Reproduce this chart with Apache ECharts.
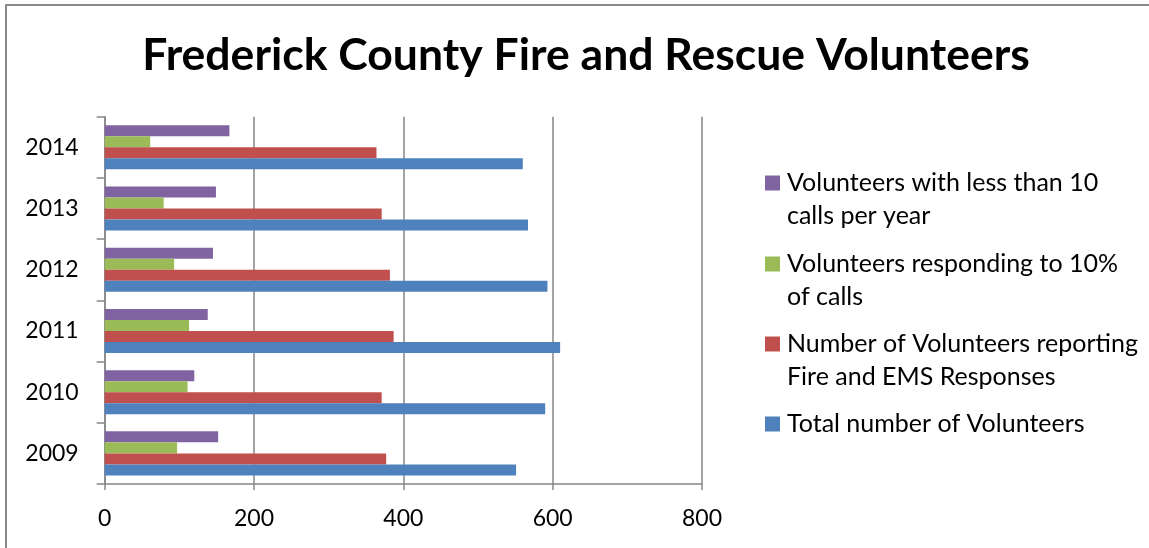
<!DOCTYPE html>
<html>
<head>
<meta charset="utf-8">
<title>Frederick County Fire and Rescue Volunteers</title>
<script src="https://cdn.jsdelivr.net/npm/echarts@6/dist/echarts.min.js"></script>
<style>
  html, body { margin: 0; padding: 0; background: #fff; }
  #chart { width: 1149px; height: 548px; }
</style>
</head>
<body>
<div id="chart"></div>
<script>
// data
var years = ['2009', '2010', '2011', '2012', '2013', '2014'];
var lessThan10Calls = [152, 120, 138, 145, 149, 167];
var responding10Pct = [97, 111, 113, 93, 79, 61];
var fireAndEms = [377, 371, 387, 382, 371, 364];
var totalVolunteers = [551, 590, 610, 593, 567, 560];
var xTicks = [0, 200, 400, 600, 800];

var seriesNames = [
  'Volunteers with less than 10\ncalls per year',
  'Volunteers responding to 10%\nof calls',
  'Number of Volunteers reporting\nFire and EMS Responses',
  'Total number of Volunteers'
];
var seriesColors = ['#8064A2', '#9BBB59', '#C0504D', '#4F81BD'];
var seriesData = [lessThan10Calls, responding10Pct, fireAndEms, totalVolunteers];

var FONT = 'Lato';
var LINE_H = 33;
var gray = '#868686';

var chart = echarts.init(document.getElementById('chart'));

// one legend per entry so the swatch sits on the first text line
// (a blank line is put in front of two-line names, so the middle line is the first one)
var legendIconY = [183, 264, 344, 424];
var legends = seriesNames.map(function (name, i) {
  var twoLines = name.indexOf('\n') >= 0;
  return {
    orient: 'vertical',
    left: 765,
    top: twoLines ? legendIconY[i] - 1.5 * LINE_H : legendIconY[i] - LINE_H / 2,
    padding: 0,
    itemWidth: 15,
    itemHeight: 15,
    icon: 'rect',
    selectedMode: false,
    data: [name],
    formatter: function (n) {
      return n.indexOf('\n') >= 0 ? ' \n' + n : n;
    },
    textStyle: {
      fontFamily: FONT,
      fontSize: 25,
      color: '#000',
      lineHeight: LINE_H,
      padding: [0, 0, 0, 2]
    }
  };
});

chart.setOption({
  animation: false,
  title: {
    text: 'Frederick County Fire and Rescue Volunteers',
    left: 581,
    textAlign: 'center',
    top: 28,
    textStyle: { fontFamily: FONT, fontSize: 44.5, fontWeight: 'bold', color: '#000' }
  },
  graphic: [{
    type: 'rect',
    shape: { x: 6, y: 5, width: 1300, height: 700 },
    style: { fill: 'none', stroke: '#8a8a8a', lineWidth: 2 },
    silent: true
  }],
  legend: legends,
  grid: { left: 104.7, right: 447, top: 116.7, bottom: 64 },
  xAxis: {
    type: 'value',
    min: xTicks[0],
    max: xTicks[xTicks.length - 1],
    interval: xTicks[1] - xTicks[0],
    axisLine: { show: true, lineStyle: { color: gray, width: 1.5 } },
    axisTick: { show: true, length: 6, lineStyle: { color: gray, width: 1.5 } },
    axisLabel: { fontFamily: FONT, fontSize: 23, color: '#000', margin: 23 },
    splitLine: { show: true, lineStyle: { color: gray, width: 1.5 } }
  },
  yAxis: {
    type: 'category',
    data: years,
    axisLine: { show: true, lineStyle: { color: gray, width: 1.5 } },
    axisTick: { show: true, length: 8, lineStyle: { color: gray, width: 1.5 } },
    axisLabel: { fontFamily: FONT, fontSize: 23, color: '#000', margin: 26 },
    splitLine: { show: false }
  },
  series: seriesNames.map(function (name, i) {
    return {
      name: name,
      type: 'bar',
      data: seriesData[i],
      barGap: '0%',
      barCategoryGap: '28%',
      itemStyle: { color: seriesColors[i] }
    };
  })
});
</script>
</body>
</html>
